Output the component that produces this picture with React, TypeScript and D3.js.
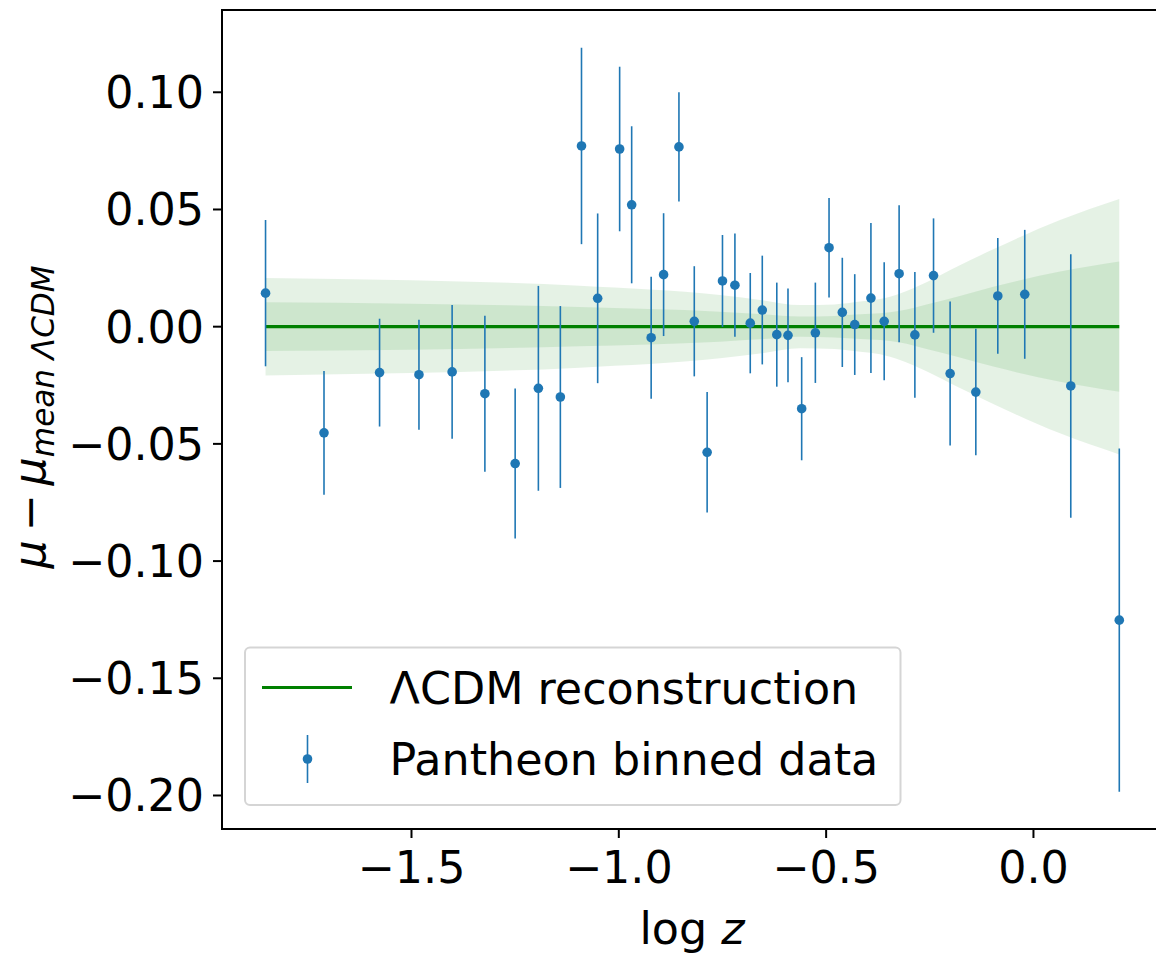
import React from "react";
import * as d3 from "d3";

// ---- data ----
const logZ = [-1.852, -1.711, -1.577, -1.482, -1.402, -1.323, -1.25, -1.194, -1.141, -1.09, -1.051, -0.998, -0.969, -0.922, -0.892, -0.855, -0.818, -0.787, -0.75, -0.72, -0.683, -0.654, -0.619, -0.592, -0.559, -0.526, -0.493, -0.461, -0.431, -0.392, -0.36, -0.324, -0.286, -0.241, -0.201, -0.139, -0.086, -0.021, 0.09, 0.207];
const residual = [0.0143, -0.0453, -0.0196, -0.0205, -0.0193, -0.0286, -0.0584, -0.0263, -0.03, 0.0771, 0.0121, 0.0758, 0.052, -0.0047, 0.0222, 0.0767, 0.0023, -0.0536, 0.0195, 0.0177, 0.0015, 0.0071, -0.0034, -0.0037, -0.035, -0.0026, 0.0337, 0.0061, 0.0009, 0.0122, 0.0023, 0.0226, -0.0035, 0.0218, -0.02, -0.0279, 0.0131, 0.0138, -0.0253, -0.1252];
const errorBar = [0.0312, 0.0264, 0.023, 0.0235, 0.0285, 0.0333, 0.032, 0.0437, 0.0388, 0.0419, 0.0362, 0.0351, 0.0335, 0.026, 0.0262, 0.0233, 0.0235, 0.0257, 0.0196, 0.022, 0.0214, 0.0232, 0.0222, 0.02, 0.022, 0.0214, 0.0212, 0.0233, 0.0215, 0.032, 0.0252, 0.0292, 0.0268, 0.0244, 0.0307, 0.027, 0.0247, 0.0275, 0.0562, 0.0732];

const bandLogZ = [-1.852, -1.5, -1.094, -0.756, -0.65, -0.563, -0.48, -0.418, -0.37, -0.322, -0.258, -0.18, -0.097, 0.064, 0.207];
const sigmaOuter = [0.0208, 0.0198, 0.0175, 0.0135, 0.0112, 0.0092, 0.0095, 0.0107, 0.0118, 0.0142, 0.019, 0.026, 0.033, 0.0455, 0.0545];
const sigmaInner = [0.0104, 0.0098, 0.0084, 0.0064, 0.0053, 0.0043, 0.0046, 0.0053, 0.0057, 0.0068, 0.0095, 0.013, 0.017, 0.0235, 0.0278];

const xTicks = [-1.5, -1.0, -0.5, 0.0];
const yTicks = [0.1, 0.05, 0.0, -0.05, -0.1, -0.15, -0.2];

const legendLabels = ["ΛCDM reconstruction", "Pantheon binned data"];

export default function App() {
  const W = 1156, H = 957;
  const left = 222, right = 1162, top = 10, bottom = 829;
  const x = d3.scaleLinear().domain([-1.957, 0.31]).range([left, right]);
  const y = d3.scaleLinear().domain([-0.2143, 0.1351]).range([bottom, top]);
  const fs = 44.4;
  const font = "'DejaVu Sans', sans-serif";
  const blue = "#1f77b4";

  const bandPts = bandLogZ.map((v, i) => ({ x: v, o: sigmaOuter[i], n: sigmaInner[i] }));
  const outerArea = d3.area<any>().x(d => x(d.x)).y0(d => y(-d.o)).y1(d => y(d.o)).curve(d3.curveMonotoneX);
  const innerArea = d3.area<any>().x(d => x(d.x)).y0(d => y(-d.n)).y1(d => y(d.n)).curve(d3.curveMonotoneX);
  const fx = d3.format(".1f");
  const fy = d3.format(".2f");
  const tickLen = 9, pad = 9;

  return (
    <svg width={W} height={H} style={{ position: "absolute", left: 0, top: 0, background: "#fff" }} fontFamily={font}>
      <rect x={0} y={0} width={W} height={H} fill="#fff" />
      {/* bands */}
      <path d={outerArea(bandPts) || ""} fill="green" fillOpacity={0.1} />
      <path d={innerArea(bandPts) || ""} fill="green" fillOpacity={0.1} />
      {/* reconstruction line */}
      <line x1={x(bandLogZ[0])} x2={x(bandLogZ[bandLogZ.length - 1])} y1={y(0)} y2={y(0)} stroke="green" strokeWidth={3.2} />
      {/* error bars */}
      {logZ.map((v, i) => (
        <g key={i}>
          <line x1={x(v)} x2={x(v)} y1={y(residual[i] - errorBar[i])} y2={y(residual[i] + errorBar[i])} stroke={blue} strokeWidth={1.6} />
          <circle cx={x(v)} cy={y(residual[i])} r={4.8} fill={blue} />
        </g>
      ))}
      {/* spines */}
      <g stroke="#000" strokeWidth={2} fill="none">
        <line x1={left} x2={left} y1={top - 1} y2={bottom + 1} />
        <line x1={left - 1} x2={right + 1} y1={bottom} y2={bottom} />
        <line x1={left - 1} x2={right + 1} y1={top} y2={top} />
        <line x1={right} x2={right} y1={top} y2={bottom} />
      </g>
      {/* y ticks */}
      {yTicks.map((t, i) => (
        <g key={"y" + i}>
          <line x1={left - tickLen} x2={left} y1={y(t)} y2={y(t)} stroke="#000" strokeWidth={2} />
          <text x={left - tickLen - pad} y={y(t) + 16} fontSize={fs} textAnchor="end" fill="#000">{fy(t)}</text>
        </g>
      ))}
      {/* x ticks */}
      {xTicks.map((t, i) => (
        <g key={"x" + i}>
          <line x1={x(t)} x2={x(t)} y1={bottom} y2={bottom + tickLen} stroke="#000" strokeWidth={2} />
          <text x={x(t)} y={bottom + tickLen + pad + 36} fontSize={fs} textAnchor="middle" fill="#000">{fx(t)}</text>
        </g>
      ))}
      {/* x label */}
      <text x={(left + right) / 2} y={944} fontSize={fs} textAnchor="middle" fill="#000">
        log <tspan fontStyle="italic">z</tspan>
      </text>
      {/* y label */}
      <text transform={`translate(45, 417) rotate(-90)`} fontSize={fs} textAnchor="middle" fill="#000">
        <tspan fontStyle="italic">μ</tspan>
        <tspan>{"\u2009−\u2009"}</tspan>
        <tspan fontStyle="italic">μ</tspan>
        <tspan fontStyle="italic" fontSize={fs * 0.7} dy={9}>{"mean ΛCDM"}</tspan>
      </text>
      {/* legend */}
      <rect x={245} y={647.5} width={655.5} height={157.5} rx={5} ry={5} fill="#fff" fillOpacity={0.8} stroke="#d5d5d5" strokeWidth={2} />
      <line x1={262} x2={352} y1={687.5} y2={687.5} stroke="green" strokeWidth={3.2} />
      <text x={389.6} y={704} fontSize={fs} fill="#000">{legendLabels[0]}</text>
      <line x1={307.5} x2={307.5} y1={735} y2={783} stroke={blue} strokeWidth={1.6} />
      <circle cx={307.5} cy={759} r={4.8} fill={blue} />
      <text x={389.6} y={775} fontSize={fs} fill="#000">{legendLabels[1]}</text>
    </svg>
  );
}
